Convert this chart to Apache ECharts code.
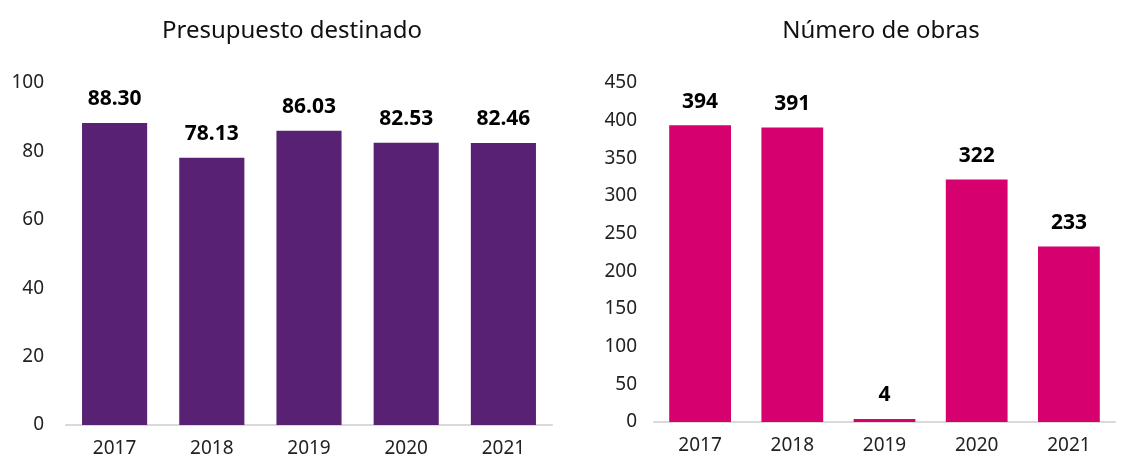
<!DOCTYPE html>
<html>
<head>
<meta charset="utf-8">
<script src="https://cdn.jsdelivr.net/npm/echarts@6/dist/echarts.min.js"></script>
<style>
  html, body { margin: 0; padding: 0; background: #fff; }
  #chart { width: 1125px; height: 459px; }
</style>
</head>
<body>
<div id="chart"></div>
<script>
  // datos
  const years = ['2017', '2018', '2019', '2020', '2021'];
  const presupuesto = [88.30, 78.13, 86.03, 82.53, 82.46];
  const obras = [394, 391, 4, 322, 233];
  const titles = ['Presupuesto destinado', 'Número de obras'];

  const font = '"Noto Sans", "Open Sans", sans-serif';
  let chart = echarts.init(document.getElementById('chart'));

  function xAxisOf(i) {
    return {
      type: 'category',
      gridIndex: i,
      data: years,
      axisTick: { show: false },
      axisLine: { lineStyle: { color: '#d9d9d9', width: 2 } },
      axisLabel: { color: '#222', fontSize: 19, fontFamily: font, margin: 14 }
    };
  }
  function yAxisOf(i, max, interval, margin) {
    return {
      type: 'value',
      gridIndex: i,
      min: 0,
      max: max,
      interval: interval,
      splitLine: { show: false },
      axisLine: { show: false },
      axisTick: { show: false },
      axisLabel: { color: '#222', fontSize: 19, fontFamily: font, margin: margin }
    };
  }
  function labelOf() {
    return {
      show: true,
      position: 'top',
      distance: 13,
      color: '#000',
      fontWeight: 'bold',
      fontSize: 21,
      fontFamily: font
    };
  }

  let option = {
    animation: false,
    title: [
      { text: titles[0], left: 287, top: 14, textAlign: 'center',
        textStyle: { fontSize: 24, fontWeight: 'normal', color: '#111', fontFamily: font } },
      { text: titles[1], left: 876, top: 14, textAlign: 'center',
        textStyle: { fontSize: 24, fontWeight: 'normal', color: '#111', fontFamily: font } }
    ],
    grid: [
      { left: 66, width: 486, top: 83, height: 342 },
      { left: 654, width: 461, top: 83, height: 339 }
    ],
    xAxis: [xAxisOf(0), xAxisOf(1)],
    yAxis: [yAxisOf(0, 100, 20, 22), yAxisOf(1, 450, 50, 17)],
    series: [
      {
        type: 'bar',
        xAxisIndex: 0,
        yAxisIndex: 0,
        data: presupuesto,
        barWidth: '67%',
        itemStyle: { color: '#582173' },
        label: Object.assign(labelOf(), {
          formatter: p => p.value.toFixed(2)
        })
      },
      {
        type: 'bar',
        xAxisIndex: 1,
        yAxisIndex: 1,
        data: obras,
        barWidth: '67%',
        itemStyle: { color: '#D6006F' },
        label: labelOf()
      }
    ]
  };
  chart.setOption(option);
</script>
</body>
</html>
